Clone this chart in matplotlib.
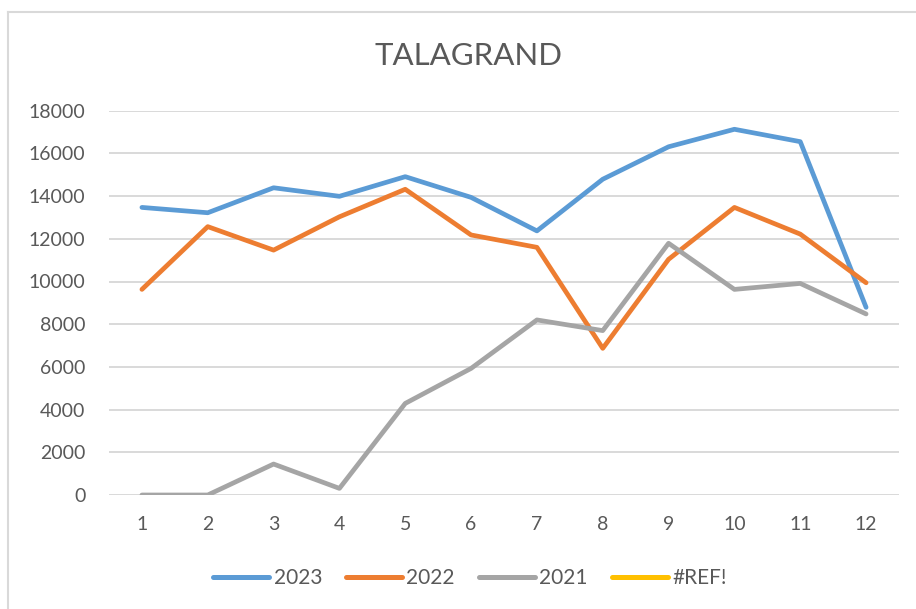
import matplotlib.pyplot as plt
from matplotlib.lines import Line2D

plt.rcParams['font.family'] = ['Lato', 'DejaVu Sans']

months = [1, 2, 3, 4, 5, 6, 7, 8, 9, 10, 11, 12]
y2023 = [13470, 13220, 14390, 13990, 14910, 13940, 12370, 14790, 16310, 17130, 16550, 8790]
y2022 = [9630, 12570, 11470, 13030, 14320, 12180, 11600, 6870, 11040, 13470, 12220, 9940]
y2021 = [0, 0, 1450, 310, 4290, 5930, 8200, 7700, 11790, 9630, 9910, 8480]
yref = []  # empty series, only in legend

series = [("2023", y2023, "#5B9BD5"),
          ("2022", y2022, "#ED7D31"),
          ("2021", y2021, "#A5A5A5"),
          ("#REF!", yref, "#FFC000")]

text_col = "#595959"
grid_col = "#D9D9D9"

fig = plt.figure(figsize=(9.16, 6.09), dpi=100)
ax = fig.add_axes([109/916, 1 - 495/609, (899 - 109)/916, (495 - 110.7)/609])

for name, vals, col in series:
    ax.plot(months[:len(vals)], vals, color=col, lw=3.4, label=name,
            solid_capstyle='round', solid_joinstyle='round')

ax.set_xlim(0.5, 12.5)
ax.set_ylim(0, 18000)
ax.set_xticks(months)
ax.set_yticks(range(0, 18001, 2000))
ax.yaxis.grid(True, color=grid_col, lw=1.4)
ax.set_axisbelow(True)
for s in ax.spines.values():
    s.set_visible(False)
ax.tick_params(length=0, labelsize=14, labelcolor=text_col)
ax.tick_params(axis='y', pad=17)
ax.tick_params(axis='x', pad=15)

fig.text(0.511, 1 - 56/609, "TALAGRAND", ha='center', va='center',
         fontsize=22.5, color=text_col)

handles = [Line2D([], [], color=c, lw=3.6, solid_capstyle='round') for _, _, c in series]
fig.legend(handles, [n for n, _, _ in series], loc='center',
           bbox_to_anchor=(0.513, 1 - 578/609), ncol=4, frameon=False,
           fontsize=15, labelcolor=text_col, handlelength=2.7,
           handletextpad=0.2, columnspacing=1.15)

# chart-area border (top and left edges visible)
fig.add_artist(Line2D([8/916, 1], [1 - 12/609] * 2, color=grid_col, lw=1.5))
fig.add_artist(Line2D([8/916] * 2, [0, 1 - 12/609], color=grid_col, lw=1.5))

fig.savefig("out.png", dpi=100, facecolor='white')
